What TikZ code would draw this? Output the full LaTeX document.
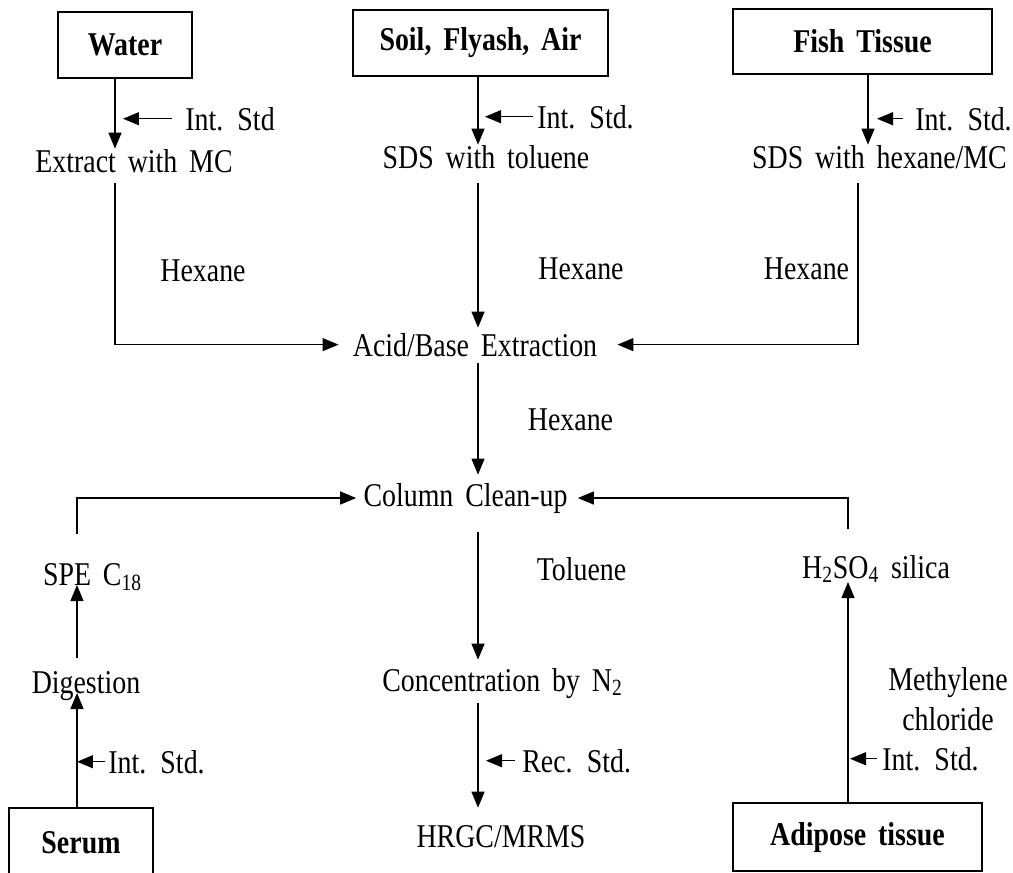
\documentclass[tikz,border=0pt]{standalone}
\usepackage{fontspec}
\setmainfont{Liberation Serif}[FakeStretch=0.84,WordSpace=1.7]
\usetikzlibrary{arrows.meta}

\tikzset{
  box/.style={draw, line width=0.7pt, font=\fontsize{18.9pt}{22.7pt}\selectfont\bfseries},
  txt/.style={inner sep=0pt},
  arr/.style={-{Triangle[length=0.32cm,width=0.26cm]}, line width=0.7pt},
}

\begin{document}
\begin{tikzpicture}[x=0.02cm, y=-0.02cm, font=\fontsize{18.9pt}{22.7pt}\selectfont]
 \useasboundingbox (0,0) rectangle (1013,872);
 \coordinate (ca) at (115,0);
 \coordinate (cb) at (478,0);
 \coordinate (cc) at (868,0);
 \coordinate (cd) at (858,0);
 \coordinate (ce) at (77,0);
 \coordinate (cf) at (848,0);

 \node[box, minimum width=2.68cm, minimum height=1.32cm] (water) at (125,45) {Water};
 \node[box, minimum width=5.1cm, minimum height=1.32cm] (soil) at (480.5,43) {Soil, Flyash, Air};
 \node[box, minimum width=5.18cm, minimum height=1.3cm] (fish) at (862.5,41.5) {Fish Tissue};
 \node[box, minimum width=2.88cm, minimum height=1.38cm] (serum) at (81,842.5) {Serum};
 \node[box, minimum width=4.98cm, minimum height=1.36cm] (adipose) at (857.5,837) {Adipose tissue};

 \node[txt, anchor=base west] (istda) at (185,130) {Int. Std};
 \node[txt, anchor=base] (extract) at (134,172) {Extract with MC};
 \node[txt, anchor=base west] (istdb) at (537,128) {Int. Std.};
 \node[txt, anchor=base] (sdstol) at (486,168) {SDS with toluene};
 \node[txt, anchor=base west] (istdc) at (915,130) {Int. Std.};
 \node[txt, anchor=base] (sdshex) at (879.5,168) {SDS with hexane/MC};
 \node[txt, anchor=base] (hexa) at (203,281) {Hexane};
 \node[txt, anchor=base] (hexb) at (581,279) {Hexane};
 \node[txt, anchor=base] (hexc) at (806.5,279) {Hexane};
 \node[txt, anchor=base] (acid) at (475,356) {Acid/Base Extraction};
 \node[txt, anchor=base] (hexd) at (570.5,430) {Hexane};
 \node[txt, anchor=base] (column) at (465.5,506) {Column Clean-up};
 \node[txt, anchor=base] (spe) at (92.5,585) {SPE C\textsubscript{18}};
 \node[txt, anchor=base] (toluene) at (581.5,580) {Toluene};
 \node[txt, anchor=base] (hsil) at (876,578) {H\textsubscript{2}SO\textsubscript{4} silica};
 \node[txt, anchor=base] (digestion) at (86,693) {Digestion};
 \node[txt, anchor=base] (conc) at (502.5,691) {Concentration by N\textsubscript{2}};
 \node[txt, anchor=north, align=center] (methyl) at (948,667) {Methylene\\chloride};
 \node[txt, anchor=base west] (istdd) at (108,773) {Int. Std.};
 \node[txt, anchor=base west] (rec) at (522,772) {Rec. Std.};
 \node[txt, anchor=base west] (istde) at (882,770) {Int. Std.};
 \node[txt, anchor=base] (hrgc) at (501,847) {HRGC/MRMS};

 % top branches
 \draw[arr] (water.south -| ca) -- (extract.north -| ca);
 \draw[arr] (soil.south -| cb) -- (sdstol.north -| cb);
 \draw[arr] (fish.south -| cc) -- (sdshex.north -| cc);
 \draw[arr, shorten <=0.26cm, shorten >=0.16cm] (istda.west) -- (istda.west -| ca);
 \draw[arr, shorten <=0.08cm, shorten >=0.14cm] (istdb.west) -- (istdb.west -| cb);
 \draw[arr, shorten <=0.24cm, shorten >=0.18cm] (istdc.west) -- (istdc.west -| cc);
 \draw[arr, shorten <=0.2cm, shorten >=0.28cm] (extract.south -| ca) |- (acid.west);
 \draw[arr, shorten <=0.28cm, shorten >=0.1cm] (sdstol.south -| cb) -- (acid.north -| cb);
 \draw[arr, shorten <=0.28cm, shorten >=0.4cm] (sdshex.south -| cd) |- (acid.east);
 \draw[arr, shorten <=0.12cm, shorten >=0.16cm] (acid.south -| cb) -- (column.north -| cb);

 % bottom branches
 \draw[arr] (serum.north -| ce) -- (digestion.base -| ce);
 \draw[arr, shorten <=0.06cm] (istdd.west) -- (istdd.west -| ce);
 \draw[arr, shorten <=0.26cm] (digestion.north -| ce) -- (spe.base -| ce);
 \draw[arr, shorten <=0.58cm, shorten >=0.14cm] (spe.north -| ce) |- (column.west);
 \draw[arr, shorten >=0.08cm] (adipose.north -| cf) -- (hsil.base -| cf);
 \draw[arr, shorten <=0.1cm, shorten >=0.04cm] (istde.west) -- (istde.west -| cf);
 \draw[arr, shorten <=0.52cm, shorten >=0.2cm] (hsil.north -| cf) |- (column.east);
 \draw[arr, shorten <=0.38cm, shorten >=0.16cm] (column.south -| cb) -- (conc.north -| cb);
 \draw[arr, shorten <=0.08cm, shorten >=0.34cm] (conc.south -| cb) -- (hrgc.north -| cb);
 \draw[arr, shorten <=0.14cm, shorten >=0.16cm] (rec.west) -- (rec.west -| cb);
\end{tikzpicture}
\end{document}
